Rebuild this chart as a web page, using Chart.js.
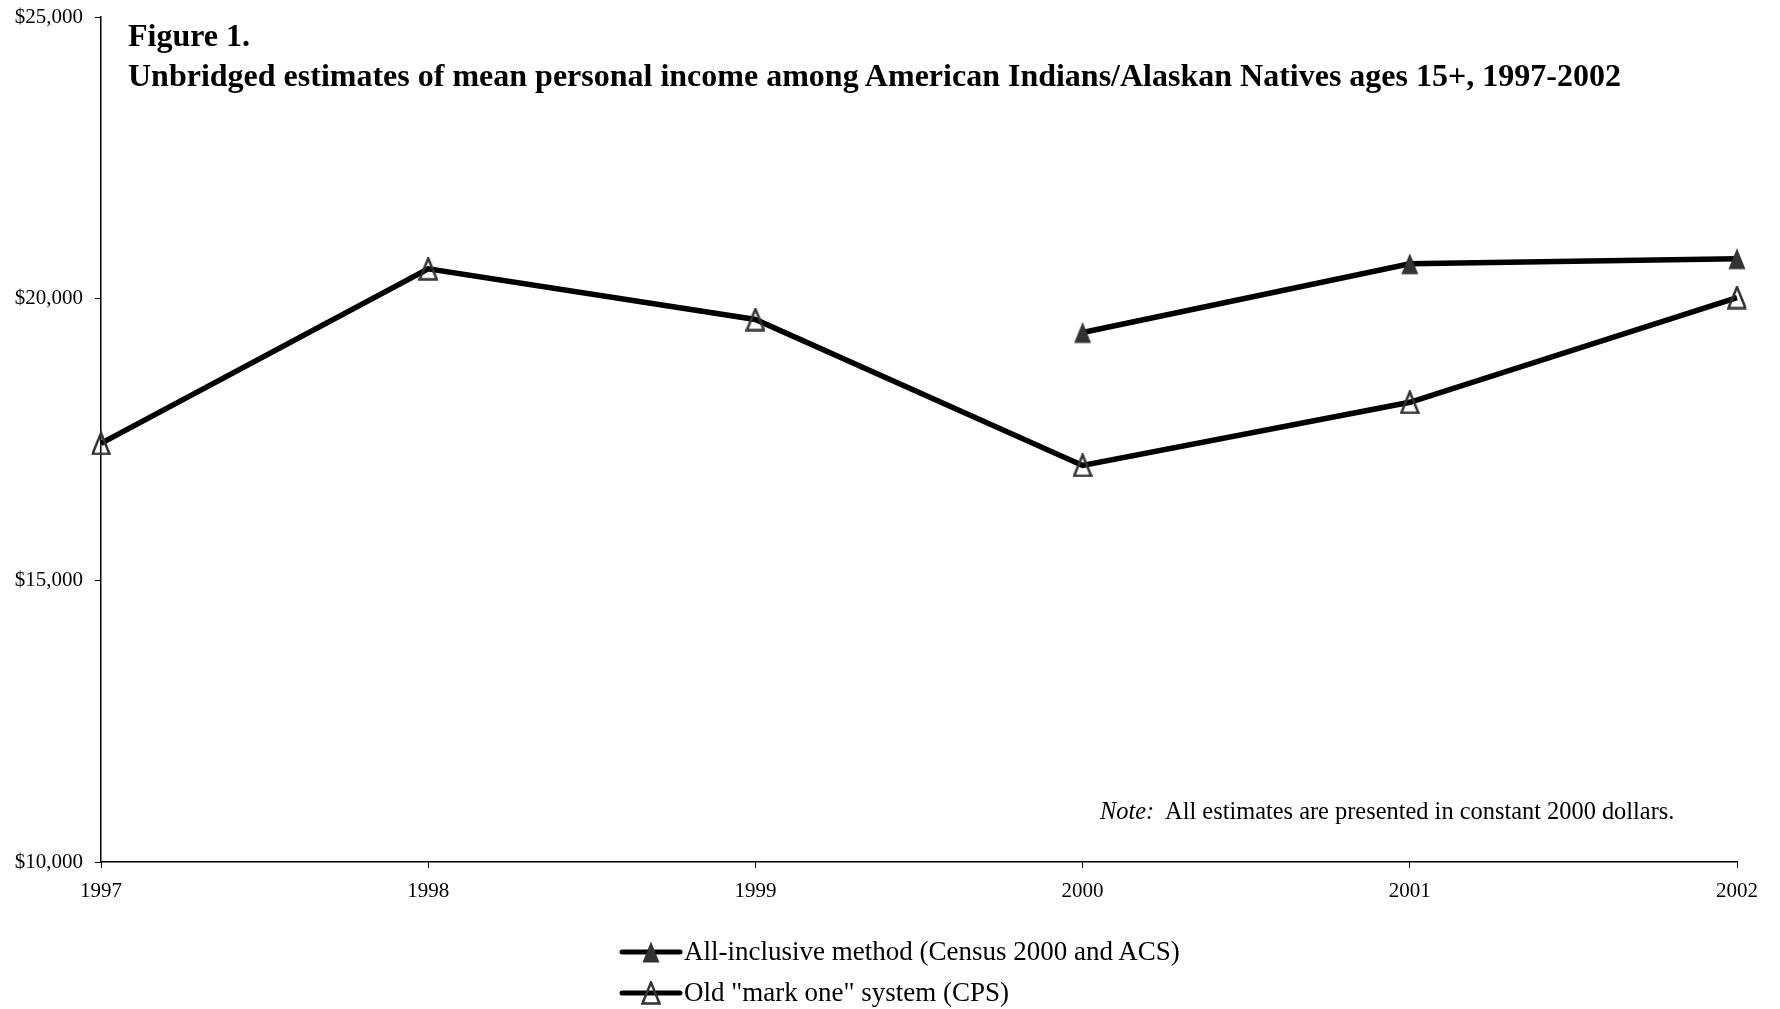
<!DOCTYPE html>
<html>
<head>
<meta charset="utf-8">
<script src="https://cdn.jsdelivr.net/npm/chart.js@4"></script>
<style>
    body { margin: 0; background: #fff; }
    .wrap { position: relative; width: 1780px; height: 1009px; font-family: "Liberation Serif", "Times New Roman", serif; color: #000; }
    canvas#chart { position: absolute; left: 0; top: 0; }
    .title { position: absolute; left: 128px; top: 15px; font-weight: bold; font-size: 32px; line-height: 40px; }
    .note { position: absolute; left: 1100px; top: 797px; font-size: 24.4px; }
    .legend { position: absolute; left: 619px; top: 931px; font-size: 27px; }
    .legend div { display: flex; align-items: center; height: 41px; }
    .legend canvas { margin-right: 1px; }
</style>
</head>
<body>
<div class="wrap">
    <canvas id="chart" width="1780" height="1009"></canvas>
    <div class="title">Figure 1.<br>Unbridged estimates of mean personal income among American Indians/Alaskan Natives ages 15+, 1997-2002</div>
    <div class="note"><i>Note:</i>&nbsp; All estimates are presented in constant 2000 dollars.</div>
    <div class="legend" id="legend"></div>
</div>
<script>
// Data
const years = ['1997', '1998', '1999', '2000', '2001', '2002'];
const allInclusive = [null, null, null, 19400, 20620, 20710];
const oldMarkOne = [17430, 20530, 19630, 17040, 18160, 20020];
const yTicks = [10000, 15000, 20000, 25000];
const seriesNames = ['All-inclusive method (Census 2000 and ACS)', 'Old "mark one" system (CPS)'];

// Triangle marker drawn on a small canvas
function triangle(filled) {
    const c = document.createElement('canvas');
    c.width = 20;
    c.height = 24;
    const ctx = c.getContext('2d');
    ctx.beginPath();
    ctx.moveTo(10, 1.5);
    ctx.lineTo(18.5, 22.5);
    ctx.lineTo(1.5, 22.5);
    ctx.closePath();
    if (filled) {
        ctx.fillStyle = '#333';
        ctx.fill();
    } else {
        ctx.strokeStyle = '#333';
        ctx.lineWidth = 2.5;
        ctx.stroke();
    }
    return c;
}

const filledTri = triangle(true);
const openTri = triangle(false);

// Legend symbol: line with marker on top
function legendSymbol(marker) {
    const c = document.createElement('canvas');
    c.width = 64;
    c.height = 26;
    const ctx = c.getContext('2d');
    ctx.strokeStyle = '#000';
    ctx.lineWidth = 5;
    ctx.lineCap = 'round';
    ctx.beginPath();
    ctx.moveTo(3, 13);
    ctx.lineTo(61, 13);
    ctx.stroke();
    ctx.drawImage(marker, 32 - 10, 13 - 12);
    return c;
}

const legend = document.getElementById('legend');
[filledTri, openTri].forEach(function(m, i) {
    const row = document.createElement('div');
    row.appendChild(legendSymbol(m));
    const span = document.createElement('span');
    span.textContent = seriesNames[i];
    row.appendChild(span);
    legend.appendChild(row);
});

const font = { family: '"Liberation Serif", "Times New Roman", serif', size: 21 };

new Chart(document.getElementById('chart'), {
    type: 'line',
    data: {
        labels: years,
        datasets: [
            {
                label: seriesNames[0],
                data: allInclusive,
                borderColor: '#000',
                borderWidth: 5.5,
                pointStyle: filledTri,
                tension: 0,
                spanGaps: false
            },
            {
                label: seriesNames[1],
                data: oldMarkOne,
                borderColor: '#000',
                borderWidth: 5.5,
                pointStyle: openTri,
                tension: 0
            }
        ]
    },
    options: {
        responsive: false,
        animation: false,
        layout: { padding: { top: 17, right: 43, left: 0, bottom: 0 } },
        plugins: {
            legend: { display: false },
            title: { display: false },
            tooltip: { enabled: false }
        },
        scales: {
            x: {
                offset: false,
                grid: { drawOnChartArea: false, drawTicks: true, tickLength: 6, color: '#000' },
                border: { color: '#000', width: 1.5 },
                ticks: { color: '#000', font: font, padding: 11, maxRotation: 0 },
                afterFit: function(scale) { scale.height = 147; }
            },
            y: {
                min: 10000,
                max: 25000,
                afterBuildTicks: function(scale) {
                    scale.ticks = yTicks.map(function(v) { return { value: v }; });
                },
                grid: { drawOnChartArea: false, drawTicks: true, tickLength: 6, color: '#000' },
                border: { color: '#000', width: 1.5 },
                ticks: {
                    color: '#000',
                    font: font,
                    padding: 12,
                    callback: function(v) { return '$' + v.toLocaleString('en-US'); }
                },
                afterFit: function(scale) {
                    scale.width = 101;
                    scale.paddingTop = 0;
                    scale.paddingBottom = 0;
                }
            }
        }
    }
});
</script>
</body>
</html>
